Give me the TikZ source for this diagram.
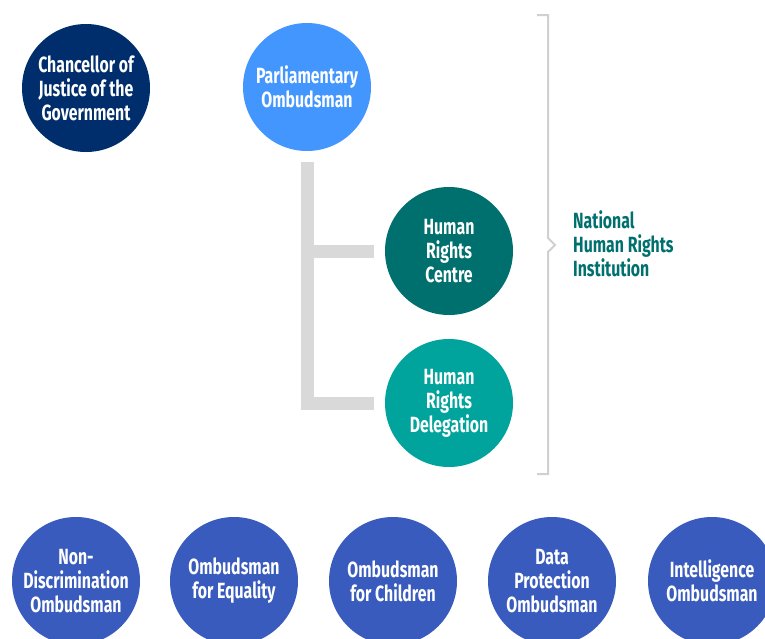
\documentclass[tikz,border=0pt]{standalone}
\usepackage{fontspec}
\setmainfont[FakeStretch=0.72]{Fira Sans}
\definecolor{navy}{RGB}{0,46,108}
\definecolor{skyb}{RGB}{68,150,255}
\definecolor{dteal}{RGB}{0,112,110}
\definecolor{lteal}{RGB}{0,164,156}
\definecolor{royal}{RGB}{56,91,189}
\definecolor{barg}{RGB}{217,217,217}
\definecolor{brkg}{RGB}{208,208,208}
\begin{document}
\begin{tikzpicture}[x=1pt,y=-1pt,
  org/.style={circle,minimum size=128pt,inner sep=0pt,text=white,align=center,
    font=\fontsize{22}{24}\selectfont\bfseries},
  bar/.style={barg,line width=13pt},
  brk/.style={brkg,line width=2pt},
  lbl/.style={text=dteal,align=left,anchor=west,inner sep=0pt,
    font=\fontsize{22}{24}\selectfont\bfseries}]
\useasboundingbox (0,0) rectangle (765,638);
\node[org,fill=navy] (chan) at (86,88) {Chancellor of\\Justice of the\\Government};
\node[org,fill=skyb] (par) at (307,87) {Parliamentary\\Ombudsman};
\node[org,fill=dteal] (hrc) at (449,251) {Human\\Rights\\Centre};
\node[org,fill=lteal] (hrd) at (449,403) {Human\\Rights\\Delegation};
\draw[bar] ([yshift=-11pt]par.south) |- ([xshift=-11pt]hrd.west);
\draw[bar] ([xshift=-11pt]hrc.west) -- (hrc.west -| par.south);
\coordinate (b1) at (537,15);
\coordinate (b2) at (548,15);
\coordinate (b3) at (548,238);
\coordinate (b4) at (555,245);
\coordinate (b5) at (548,252);
\coordinate (b6) at (548,474);
\coordinate (b7) at (537,474);
\draw[brk] (b1) -- (b2) -- (b3) -- (b4) -- (b5) -- (b6) -- (b7);
\node[lbl] (nhri) at (573,244) {National\\Human Rights\\Institution};
\node[org,fill=royal] (ndo) at (76,581) {Non-\\Discrimination\\Ombudsman};
\node[org,fill=royal] (oe) at (234,581) {Ombudsman\\for Equality};
\node[org,fill=royal] (oc) at (393,581) {Ombudsman\\for Children};
\node[org,fill=royal] (dpo) at (552,581) {Data\\Protection\\Ombudsman};
\node[org,fill=royal] (io) at (712,581) {Intelligence\\Ombudsman};
\end{tikzpicture}
\end{document}
